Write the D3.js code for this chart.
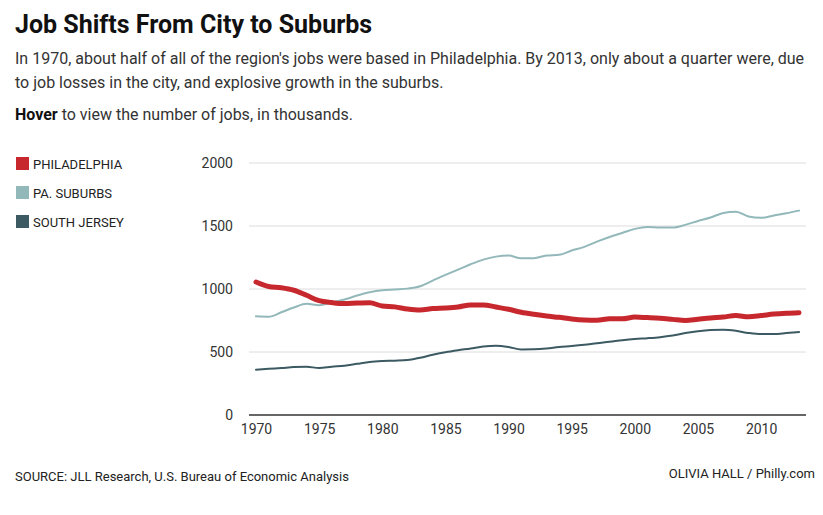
<!DOCTYPE html>
<html>
<head>
<meta charset="utf-8">
<script src="https://cdn.jsdelivr.net/npm/d3@7"></script>
<style>
  body { margin: 0; background: #fff; font-family: Roboto, "Noto Sans", sans-serif; }
</style>
</head>
<body>
<script>
var w = 823, h = 515;

// jobs, in thousands
var years = d3.range(1970, 2014);
var philadelphia = [1055, 1020, 1010, 990, 950, 907, 892, 884, 888, 890,
  865, 858, 841, 833, 845, 849, 857, 874, 874, 857,
  839, 815, 799, 786, 775, 762, 754, 752, 763, 763,
  777, 773, 768, 759, 750, 760, 770, 778, 789, 779,
  789, 801, 808, 812];
var paSuburbs = [783, 780, 815, 853, 882, 872, 893, 916, 948, 974,
  990, 996, 1003, 1022, 1067, 1112, 1154, 1196, 1233, 1257,
  1265, 1244, 1245, 1265, 1271, 1305, 1334, 1376, 1413, 1445,
  1477, 1493, 1488, 1488, 1509, 1540, 1567, 1604, 1614, 1576,
  1565, 1584, 1601, 1622];
var southJersey = [360, 367, 373, 380, 383, 373, 383, 391, 406, 421,
  428, 431, 436, 455, 478, 498, 514, 528, 544, 550,
  540, 520, 521, 527, 539, 547, 557, 570, 581, 594,
  604, 610, 618, 631, 650, 665, 674, 676, 668, 651,
  642, 643, 650, 658];

var seriesNames = ["PHILADELPHIA", "PA. SUBURBS", "SOUTH JERSEY"];
var seriesColors = ["#c7282d", "#93b8ba", "#3c5a62"];
var seriesWidths = [5, 2, 2];
var allSeries = [philadelphia, paSuburbs, southJersey];

var yTicks = [0, 500, 1000, 1500, 2000];
var xTicks = [1970, 1975, 1980, 1985, 1990, 1995, 2000, 2005, 2010];

var svg = d3.select("body").append("svg").attr("width", w).attr("height", h)
  .style("font-family", "Roboto, 'Noto Sans', sans-serif");

// title + text
svg.append("text").attr("x", 15).attr("y", 33)
  .attr("font-size", 25).attr("font-weight", "bold").attr("fill", "#111")
  .text("Job Shifts From City to Suburbs");

var sub = ["In 1970, about half of all of the region's jobs were based in Philadelphia. By 2013, only about a quarter were, due",
  "to job losses in the city, and explosive growth in the suburbs."];
svg.selectAll("text.sub").data(sub).enter().append("text")
  .attr("class", "sub")
  .attr("x", 15).attr("y", function(d, i){ return 64 + i*24; })
  .attr("font-size", 16).attr("fill", "#333")
  .text(function(d){ return d; });

var hover = svg.append("text").attr("x", 15).attr("y", 120)
  .attr("font-size", 16).attr("fill", "#333");
hover.append("tspan").attr("font-weight", "bold").attr("fill", "#111").text("Hover");
hover.append("tspan").text(" to view the number of jobs, in thousands.");

// legend
var leg = svg.selectAll("g.leg").data(seriesNames).enter().append("g")
  .attr("class", "leg")
  .attr("transform", function(d, i){ return "translate(16," + (157 + i*29) + ")"; });
leg.append("rect").attr("width", 13).attr("height", 13)
  .attr("fill", function(d, i){ return seriesColors[i]; });
leg.append("text").attr("x", 17).attr("y", 11.5)
  .attr("font-size", 13).attr("fill", "#222")
  .text(function(d){ return d; });

// scales
var x = d3.scaleLinear().domain([1970, 2013]).range([256, 799]);
var y = d3.scaleLinear().domain([0, 2000]).range([415, 163]);

// grid
svg.selectAll("line.grid").data(yTicks).enter().append("line")
  .attr("class", "grid")
  .attr("x1", 249).attr("x2", 806)
  .attr("y1", function(d){ return y(d); }).attr("y2", function(d){ return y(d); })
  .attr("stroke", function(d){ return d === 0 ? "#333" : "#dcdcdc"; })
  .attr("stroke-width", function(d){ return d === 0 ? 1.5 : 1; });

svg.selectAll("text.ytick").data(yTicks).enter().append("text")
  .attr("class", "ytick")
  .attr("x", 233).attr("y", function(d){ return y(d) + 5; })
  .attr("text-anchor", "end").attr("font-size", 14).attr("fill", "#333")
  .text(function(d){ return d; });

var xAxis = svg.append("g").attr("transform", "translate(0,415)")
  .call(d3.axisBottom(x).tickValues(xTicks).tickFormat(d3.format("d")).tickSize(0).tickPadding(9));
xAxis.select(".domain").remove();
xAxis.selectAll("text").attr("font-size", 14).attr("fill", "#333")
  .style("font-family", "Roboto, 'Noto Sans', sans-serif");

// lines
var line = d3.line()
  .x(function(d, i){ return x(years[i]); })
  .y(function(d){ return y(d); })
  .curve(d3.curveMonotoneX);

[2, 1, 0].forEach(function(k){
  svg.append("path").datum(allSeries[k])
    .attr("d", line)
    .attr("fill", "none")
    .attr("stroke", seriesColors[k])
    .attr("stroke-width", seriesWidths[k])
    .attr("stroke-linejoin", "round")
    .attr("stroke-linecap", "round");
});

// footer
svg.append("text").attr("x", 15).attr("y", 481)
  .attr("font-size", 13).attr("fill", "#222")
  .text("SOURCE: JLL Research, U.S. Bureau of Economic Analysis");
svg.append("text").attr("x", 815).attr("y", 478)
  .attr("text-anchor", "end").attr("font-size", 13).attr("fill", "#222")
  .text("OLIVIA HALL / Philly.com");
</script>
</body>
</html>
